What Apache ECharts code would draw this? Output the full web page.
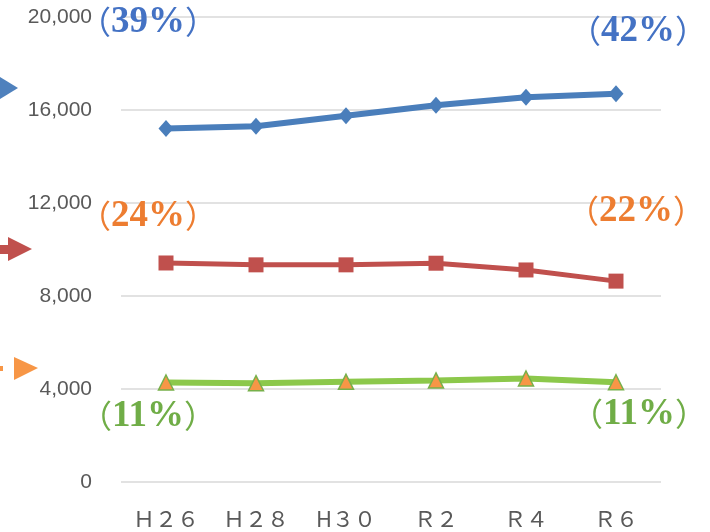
<!DOCTYPE html>
<html>
<head>
<meta charset="utf-8">
<script src="https://cdn.jsdelivr.net/npm/echarts@6/dist/echarts.min.js"></script>
<style>
  html, body { margin: 0; padding: 0; background: #fff; }
  #chart { width: 710px; height: 532px; }
</style>
</head>
<body>
<div id="chart"></div>
<script>
// Survey years (Heisei / Reiwa)
const categories = ['Ｈ２６', 'Ｈ２８', 'H３０', 'Ｒ２', 'Ｒ４', 'Ｒ６'];

// Series values
const blueValues  = [15200, 15300, 15750, 16200, 16550, 16700];
const redValues   = [9420, 9340, 9340, 9410, 9120, 8640];
const greenValues = [4280, 4250, 4310, 4370, 4450, 4290];

// Share of total at first and last year
const shareStart = ['39%', '24%', '11%'];
const shareEnd   = ['42%', '22%', '11%'];

// Y axis ticks
const yTicks = [0, 4000, 8000, 12000, 16000, 20000];

const chart = echarts.init(document.getElementById('chart'));

const shareColors = ['#4472c4', '#ed7d31', '#70ad47'];
const startPos = [[148, 22], [148, 216], [148, 416]];
const endPos   = [[638, 31], [636, 211], [639, 414]];

function shareText(txt, pos, color) {
  return {
    type: 'text',
    x: pos[0], y: pos[1],
    style: {
      text: '{p|（}{n|' + txt + '}{p|）}',
      align: 'center',
      verticalAlign: 'middle',
      rich: {
        p: { fontFamily: 'Noto Sans CJK JP', fontSize: 32, fill: color, fontWeight: 'normal' },
        n: { fontFamily: 'Liberation Serif', fontSize: 37, fill: color, fontWeight: 'bold' }
      }
    },
    z: 10
  };
}

const graphics = [];
shareStart.forEach((t, i) => graphics.push(shareText(t, startPos[i], shareColors[i])));
shareEnd.forEach((t, i) => graphics.push(shareText(t, endPos[i], shareColors[i])));

// Arrow pointers along the left edge
graphics.push({
  type: 'polygon',
  shape: { points: [[0, 77], [18, 88], [0, 99]] },
  style: { fill: '#4f81bd' }
});
graphics.push({
  type: 'polygon',
  shape: { points: [[0, 245], [8, 245], [8, 237], [32, 249], [8, 261], [8, 254], [0, 254]] },
  style: { fill: '#c0504d' }
});
graphics.push({
  type: 'polygon',
  shape: { points: [[14, 357], [38, 368], [14, 380]] },
  style: { fill: '#f79646' }
});
graphics.push({
  type: 'rect',
  shape: { x: 0, y: 366, width: 3, height: 5 },
  style: { fill: '#f79646' }
});

chart.setOption({
  animation: false,
  backgroundColor: '#fff',
  grid: { left: 121, right: 49, top: 17, bottom: 50 },
  xAxis: {
    type: 'category',
    data: categories,
    boundaryGap: true,
    axisLine: { show: false },
    axisTick: { show: false },
    axisLabel: {
      margin: 26,
      color: '#595959',
      fontFamily: 'Noto Sans CJK JP',
      fontSize: 22
    }
  },
  yAxis: {
    type: 'value',
    min: yTicks[0],
    max: yTicks[yTicks.length - 1],
    interval: yTicks[1] - yTicks[0],
    axisLine: { show: false },
    axisTick: { show: false },
    splitLine: { lineStyle: { color: '#d9d9d9', width: 1.5 } },
    axisLabel: {
      margin: 29,
      color: '#595959',
      fontFamily: 'Liberation Sans',
      fontSize: 21,
      formatter: v => v.toLocaleString('en-US')
    }
  },
  series: [
    {
      type: 'line',
      data: blueValues,
      symbol: 'diamond',
      symbolSize: [15, 17],
      lineStyle: { color: '#4a7ebb', width: 6 },
      itemStyle: { color: '#4a7ebb' },
      z: 3
    },
    {
      type: 'line',
      data: redValues,
      symbol: 'rect',
      symbolSize: 15,
      lineStyle: { color: '#c0504d', width: 5 },
      itemStyle: { color: '#c0504d' },
      z: 3
    },
    {
      type: 'line',
      data: greenValues,
      symbol: 'triangle',
      symbolSize: 15,
      lineStyle: { color: '#8cc84b', width: 6 },
      itemStyle: { color: '#f79646', borderColor: '#77b04a', borderWidth: 1.5 },
      z: 3
    }
  ],
  graphic: graphics
});
</script>
</body>
</html>
